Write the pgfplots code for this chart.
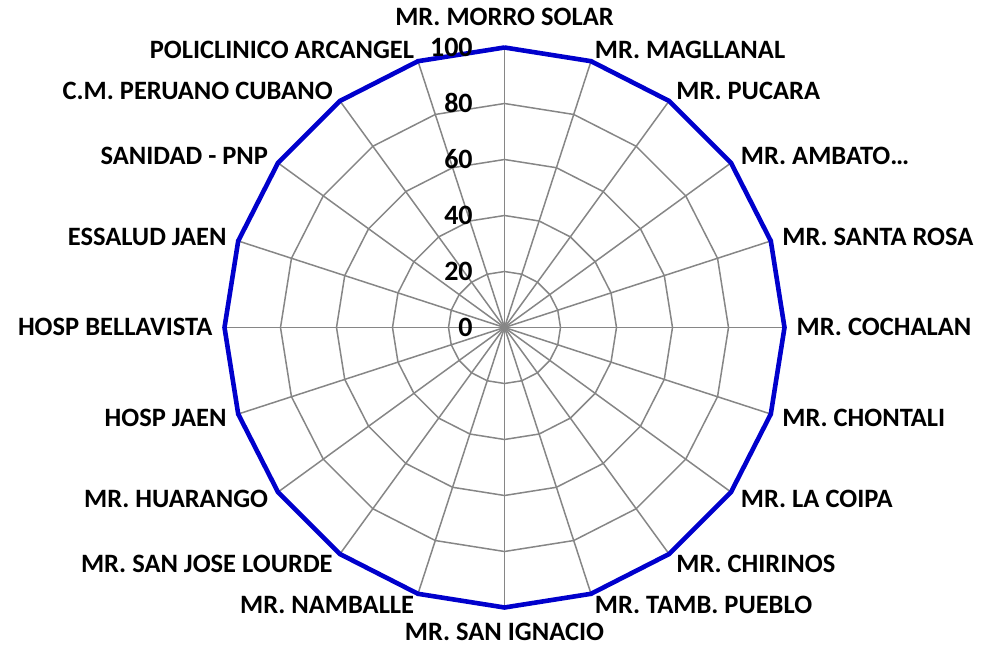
\documentclass[border=0pt]{standalone}
\usepackage{pgfplots}
\pgfplotsset{compat=1.18}
\usepackage{fontspec}
\setmainfont{Carlito}
\definecolor{serblue}{RGB}{0,0,204}
\definecolor{gridgray}{RGB}{134,134,134}
\tikzset{
  lab/.style={font=\fontsize{26.5}{28}\selectfont\bfseries, inner sep=0pt, text height=16.7pt, text depth=0pt},
  tl/.style={font=\fontsize{28}{30}\selectfont\bfseries, inner sep=0pt, text height=17.7pt, text depth=0pt, anchor=east},
}
\begin{document}
\begin{tikzpicture}[x=1pt,y=1pt]
\begin{axis}[
  scale only axis, width=560pt, height=560pt,
  xmin=-100, xmax=100, ymin=-100, ymax=100,
  axis lines=none, ticks=none, clip=false,
  at={(504.5pt,320.5pt)}, anchor=center,
]
% spider grid
\pgfplotsinvokeforeach{20,40,60,80,100}{
  \addplot[gridgray, line width=1.5pt, data cs=polar, line join=miter] coordinates {
    (90,#1)(72,#1)(54,#1)(36,#1)(18,#1)(0,#1)(-18,#1)(-36,#1)(-54,#1)(-72,#1)
    (-90,#1)(-108,#1)(-126,#1)(-144,#1)(-162,#1)(-180,#1)(-198,#1)(-216,#1)(-234,#1)(-252,#1)(90,#1)};
}
\pgfplotsinvokeforeach{90,72,54,36,18,0,-18,-36,-54,-72,-90,-108,-126,-144,-162,-180,-198,-216,-234,-252}{
  \addplot[gridgray, line width=1.5pt, data cs=polar] coordinates {(#1,0)(#1,100)};
}
% data series
\addplot[serblue, line width=4.6pt, data cs=polar, line join=miter] coordinates {
  (90,100)(72,100)(54,100)(36,100)(18,100)(0,100)(-18,100)(-36,100)(-54,100)(-72,100)
  (-90,100)(-108,100)(-126,100)(-144,100)(-162,100)(-180,100)(-198,100)(-216,100)(-234,100)(-252,100)(90,100)};
% tick labels
\node[tl] at (axis cs:-11.3,0) {0};
\node[tl] at (axis cs:-11.3,20) {20};
\node[tl] at (axis cs:-11.3,40) {40};
\node[tl] at (axis cs:-11.3,60) {60};
\node[tl] at (axis cs:-11.3,80) {80};
\node[tl] at (axis cs:-11.3,100) {100};
% category labels
\node[lab, anchor=south] at (axis cs:0,107.9) {MR. MORRO SOLAR};
\node[lab, anchor=west] at (axis cs:{104.3*sin(18)},{104.3*cos(18)}) {MR. MAGLLANAL};
\node[lab, anchor=west] at (axis cs:{104.3*sin(36)},{104.3*cos(36)}) {MR. PUCARA};
\node[lab, anchor=west] at (axis cs:{104.3*sin(54)},{104.3*cos(54)}) {MR. AMBATO…};
\node[lab, anchor=west] at (axis cs:{104.3*sin(72)},{104.3*cos(72)}) {MR. SANTA ROSA};
\node[lab, anchor=west] at (axis cs:{104.3*sin(90)},{104.3*cos(90)}) {MR. COCHALAN};
\node[lab, anchor=west] at (axis cs:{104.3*sin(108)},{104.3*cos(108)}) {MR. CHONTALI};
\node[lab, anchor=west] at (axis cs:{104.3*sin(126)},{104.3*cos(126)}) {MR. LA COIPA};
\node[lab, anchor=west] at (axis cs:{104.3*sin(144)},{104.3*cos(144)}) {MR. CHIRINOS};
\node[lab, anchor=west] at (axis cs:{104.3*sin(162)},{104.3*cos(162)}) {MR. TAMB. PUEBLO};
\node[lab, anchor=north] at (axis cs:0,-105.8) {MR. SAN IGNACIO};
\node[lab, anchor=east] at (axis cs:{104.3*sin(198)},{104.3*cos(198)}) {MR. NAMBALLE};
\node[lab, anchor=east] at (axis cs:{104.3*sin(216)},{104.3*cos(216)}) {MR. SAN JOSE LOURDE};
\node[lab, anchor=east] at (axis cs:{104.3*sin(234)},{104.3*cos(234)}) {MR. HUARANGO};
\node[lab, anchor=east] at (axis cs:{104.3*sin(252)},{104.3*cos(252)}) {HOSP JAEN};
\node[lab, anchor=east] at (axis cs:{104.3*sin(270)},{104.3*cos(270)}) {HOSP BELLAVISTA};
\node[lab, anchor=east] at (axis cs:{104.3*sin(288)},{104.3*cos(288)}) {ESSALUD JAEN};
\node[lab, anchor=east] at (axis cs:{104.3*sin(306)},{104.3*cos(306)}) {SANIDAD - PNP};
\node[lab, anchor=east] at (axis cs:{104.3*sin(324)},{104.3*cos(324)}) {C.M. PERUANO CUBANO};
\node[lab, anchor=east] at (axis cs:{104.3*sin(342)},{104.3*cos(342)}) {POLICLINICO ARCANGEL};
\end{axis}
\pgfresetboundingbox
\useasboundingbox (0,0) rectangle (981pt,648pt);
\end{tikzpicture}
\end{document}
